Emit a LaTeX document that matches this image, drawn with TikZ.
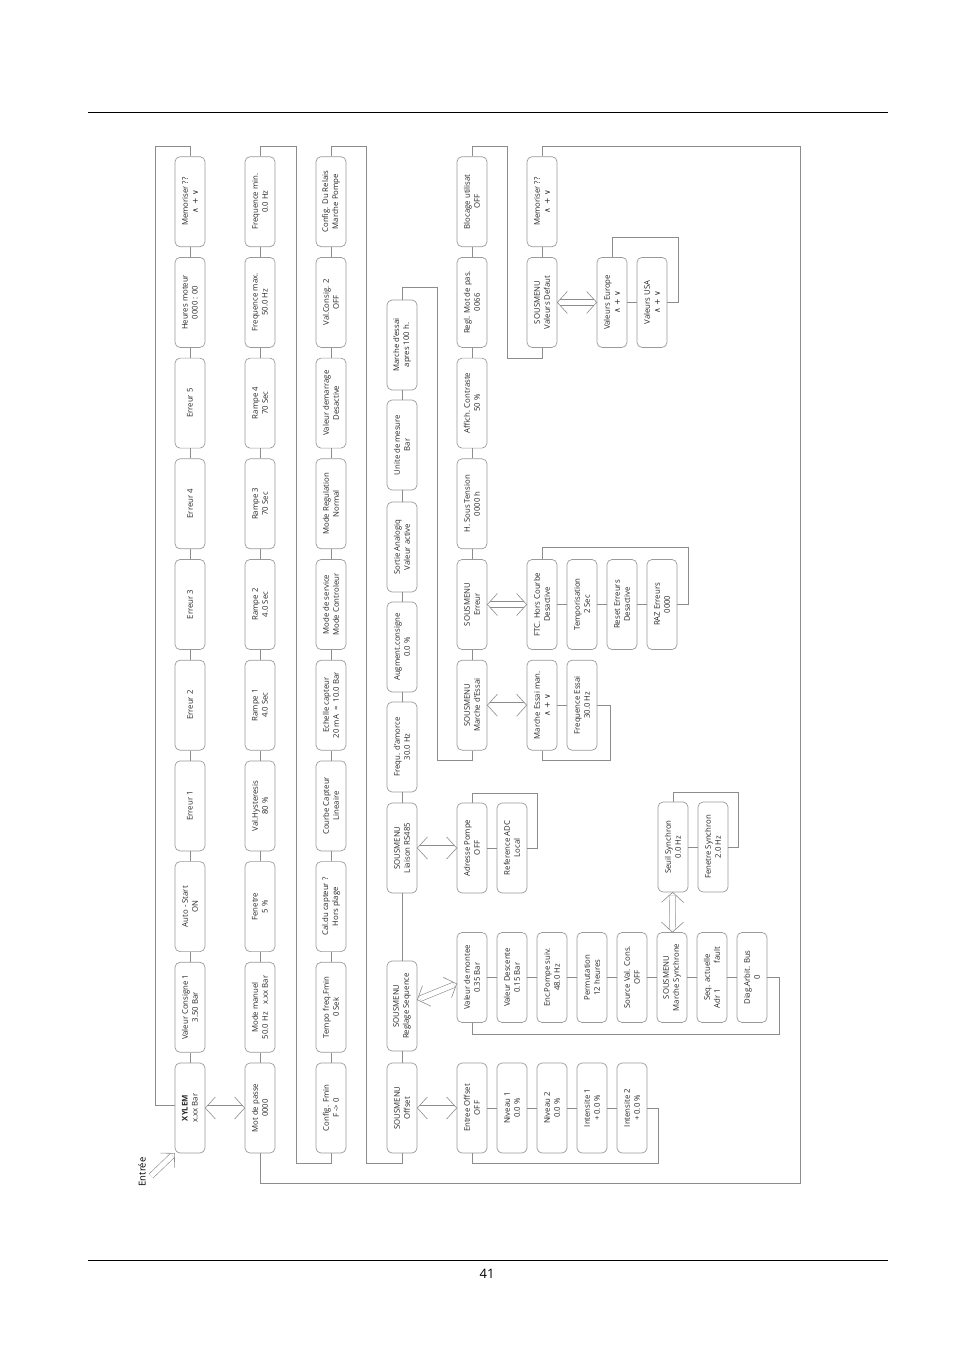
\documentclass[tikz,border=0pt]{standalone}
\usepackage{fontspec}
\setmainfont{Open Sans}
\newfontfamily\symf{DejaVu Sans}
\usetikzlibrary{arrows.meta,calc,decorations.markings}
\definecolor{boxc}{HTML}{9A9A9A}
\definecolor{linec}{HTML}{8C8C8C}
\definecolor{txtc}{HTML}{262626}
\newcommand{\updn}{{\symf ∧ + ∨}}
\begin{document}
\begin{tikzpicture}[x=1pt,y=-1pt,
  bx/.style={draw=boxc, rounded corners=5pt, rotate=90, minimum width=90pt, minimum height=30pt,
    inner sep=1pt, align=center, font=\fontsize{7.8}{10}\selectfont, text=txtc, line width=0.7pt},
  conn/.style={draw=linec, line width=0.7pt},
  vhead/.style={draw=linec, line width=0.6pt},
  darr/.style={draw=none,
    postaction={draw=linec, line width=0.6pt, double distance=5pt, shorten <=3pt, shorten >=3pt},
    postaction={decorate, decoration={markings,
      mark=at position 0 with {\draw[vhead] (10pt,11pt) -- (0pt,0pt) -- (10pt,-11pt);},
      mark=at position 1 with {\draw[vhead] (-10pt,11pt) -- (0pt,0pt) -- (-10pt,-11pt);}}}},
  sarr/.style={draw=none,
    postaction={draw=linec, line width=0.6pt, double distance=5pt, shorten >=3pt},
    postaction={decorate, decoration={markings,
      mark=at position 1 with {\draw[vhead] (-10pt,10pt) -- (0pt,0pt) -- (-10pt,-10pt);}}}},
]
\useasboundingbox (0,0) rectangle (954,1351);
\draw[line width=0.6pt] (88,112) -- (888,112);
\draw[line width=0.6pt] (88,1260) -- (888,1260);
\node[font=\fontsize{13}{15}\selectfont] (pnum) at (487,1274) {41};

% column 1
\node[bx] (a0) at (190,1108) {\textbf{XYLEM}\\x.xx Bar};
\node[bx] (a1) at (190,1007.3) {Valeur Consigne 1\\3.50 Bar};
\node[bx] (a2) at (190,906.6) {Auto - Start\\ON};
\node[bx] (a3) at (190,805.9) {Erreur 1};
\node[bx] (a4) at (190,705.2) {Erreur 2};
\node[bx] (a5) at (190,604.5) {Erreur 3};
\node[bx] (a6) at (190,503.8) {Erreur 4};
\node[bx] (a7) at (190,403.1) {Erreur 5};
\node[bx] (a8) at (190,302.4) {Heures moteur\\0000 : 00};
\node[bx] (a9) at (190,201.7) {Memoriser ??\\\updn};
% column 2
\node[bx] (b0) at (260,1108) {Mot de passe\\0000};
\node[bx] (b1) at (260,1007.3) {Mode manuel\\50.0 Hz\quad x.xx Bar};
\node[bx] (b2) at (260,906.6) {Fenetre\\5 \%};
\node[bx] (b3) at (260,805.9) {Val.Hysteresis\\80 \%};
\node[bx] (b4) at (260,705.2) {Rampe 1\\4.0 Sec};
\node[bx] (b5) at (260,604.5) {Rampe 2\\4.0 Sec};
\node[bx] (b6) at (260,503.8) {Rampe 3\\70 Sec};
\node[bx] (b7) at (260,403.1) {Rampe 4\\70 Sec};
\node[bx] (b8) at (260,302.4) {Frequence max.\\50.0 Hz};
\node[bx] (b9) at (260,201.7) {Frequence min.\\0.0 Hz};
% column 3
\node[bx] (c0) at (331,1108) {Config. Fmin\\F -> 0};
\node[bx] (c1) at (331,1007.3) {Tempo freq.Fmin\\0 Sek};
\node[bx] (c2) at (331,906.6) {Cal.du capteur ?\\Hors plage};
\node[bx] (c3) at (331,805.9) {Courbe Capteur\\Lineaire};
\node[bx] (c4) at (331,705.2) {Echelle capteur\\20 mA\ \ =\ \ 10.0 Bar};
\node[bx] (c5) at (331,604.5) {Mode de service\\Mode Controleur};
\node[bx] (c6) at (331,503.8) {Mode Regulation\\Normal};
\node[bx] (c7) at (331,403.1) {Valeur demarrage\\Desactive};
\node[bx] (c8) at (331,302.4) {Val.Consig. 2\\OFF};
\node[bx] (c9) at (331,201.7) {Config. Du Relais\\Marche Pompe};
% column 4
\node[bx] (d0) at (402,1108) {SOUSMENU\\Offset};
\node[bx] (d1) at (402,1006) {SOUSMENU\\Reglage Sequence};
\node[bx] (d2) at (402,848) {SOUSMENU\\Liaison RS485};
\node[bx] (d3) at (402,747) {Frequ. d'amorce\\30.0 Hz};
\node[bx] (d4) at (402,647) {Augment.consigne\\0.0 \%};
\node[bx] (d5) at (402,547) {Sortie Analogiq\\Valeur active};
\node[bx] (d6) at (402,445) {Unite de mesure\\Bar};
\node[bx] (d7) at (402,345) {Marche d'essai\\apres 100 h.};
% column 5
\node[bx] (e4) at (472,705.2) {SOUSMENU\\Marche d'Essai};
\node[bx] (e5) at (472,604.5) {SOUSMENU\\Erreur};
\node[bx] (e6) at (472,503.8) {H. Sous Tension\\0000 h};
\node[bx] (e7) at (472,403.1) {Affich. Contraste\\50 \%};
\node[bx] (e8) at (472,302.4) {Regl. Mot de pas.\\0066};
\node[bx] (e9) at (472,201.7) {Blocage utilisat\\OFF};
% column 6 top
\node[bx] (f8) at (542,302.4) {SOUSMENU\\Valeurs Defaut};
\node[bx] (f9) at (542,201.7) {Memoriser ??\\\updn};
\node[bx] (v0) at (612,302.4) {Valeurs Europe\\\updn};
\node[bx] (v1) at (652,302.4) {Valeurs USA\\\updn};
% erreur submenu
\node[bx] (g0) at (542,604.5) {FTC. Hors Courbe\\Desactive};
\node[bx] (g1) at (582,604.5) {Temporisation\\2 Sec};
\node[bx] (g2) at (622,604.5) {Reset Erreurs\\Desactive};
\node[bx] (g3) at (662,604.5) {RAZ Erreurs\\0000};
% marche d'essai submenu
\node[bx] (h0) at (542,705.2) {Marche Essai man.\\\updn};
\node[bx] (h1) at (582,705.2) {Frequence Essai\\30.0 Hz};
% RS485 submenu
\node[bx] (r0) at (472,848) {Adresse Pompe\\OFF};
\node[bx] (r1) at (512,848) {Reference ADC\\Local};
% synchron submenu
\node[bx] (s0) at (673,847) {Seuil Synchron\\0.0 Hz};
\node[bx] (s1) at (713,847) {Fenetre Synchron\\2.0 Hz};
% sequence submenu
\node[bx] (q0) at (472,977.5) {Valeur de montee\\0.35 Bar};
\node[bx] (q1) at (512,977.5) {Valeur Descente\\0.15 Bar};
\node[bx] (q2) at (552,977.5) {Enc.Pompe suiv.\\48.0 Hz};
\node[bx] (q3) at (592,977.5) {Permutation\\12 heures};
\node[bx] (q4) at (632,977.5) {Source Val. Cons.\\OFF};
\node[bx] (q5) at (672,977.5) {SOUSMENU\\Marche Synchrone};
\node[bx] (q6) at (712,977.5) {Seq. actuelle\\Adr 1\hspace{26pt}fault};
\node[bx] (q7) at (752,977.5) {Diag.Arbit. Bus\\0};
% offset submenu
\node[bx] (o0) at (472,1108) {Entree Offset\\OFF};
\node[bx] (o1) at (512,1108) {Niveau 1\\0.0 \%};
\node[bx] (o2) at (552,1108) {Niveau 2\\0.0 \%};
\node[bx] (o3) at (592,1108) {Intensite 1\\+ 0.0 \%};
\node[bx] (o4) at (632,1108) {Intensite 2\\+ 0.0 \%};

% chain links
\foreach \p/\n in {a0/a1,a1/a2,a2/a3,a3/a4,a4/a5,a5/a6,a6/a7,a7/a8,a8/a9,
  b0/b1,b1/b2,b2/b3,b3/b4,b4/b5,b5/b6,b6/b7,b7/b8,b8/b9,
  c0/c1,c1/c2,c2/c3,c3/c4,c4/c5,c5/c6,c6/c7,c7/c8,c8/c9,
  d0/d1,d1/d2,d2/d3,d3/d4,d4/d5,d5/d6,d6/d7,
  e4/e5,e5/e6,e6/e7,e7/e8,e8/e9,f8/f9,v0/v1,g0/g1,g1/g2,g2/g3,h0/h1,r0/r1,s0/s1,
  q0/q1,q1/q2,q2/q3,q3/q4,q4/q5,q5/q6,q6/q7,o0/o1,o1/o2,o2/o3,o3/o4}
  \draw[conn] (\p) -- (\n);

% loops between columns
\draw[conn] (a9.east) -- ++(0,-10) -| (155,1105) -- (a0.north |- 155,1105);
\draw[conn] (b9.east) -- ++(0,-10) -| (296,1163) -| (c0.west);
\draw[conn] (c9.east) -- ++(0,-10) -| (366,1163) -| (d0.west);
\draw[conn] (d7.east) -- ++(0,-12) -| (437,760) -| (e4.west);
\draw[conn] (e9.east) -- ++(0,-10) -| (507,358) -| (f8.west);
\draw[conn] (f9.east) -- ++(0,-10) -| (800,1183) -| (b0.west);
% submenu loops
\draw[conn] (g3.south) -| (688,547) -| (g0.east);
\draw[conn] (h1.south) -| (610,760) -| (h0.west);
\draw[conn] (v1.south) -| (678,237) -| (v0.east);
\draw[conn] (r1.south) -| (537,793) -| (r0.east);
\draw[conn] (s1.south) -| (738,792) -| (s0.east);
\draw[conn] (q7.south) -| (779,1034) -| (q0.west);
\draw[conn] (o4.south) -| (658,1163) -| (o0.west);

% double arrows
\draw[darr] (a0) -- (b0);
\draw[darr] (d0) -- (o0);
\draw[darr] (d1) -- (q0);
\draw[darr] (d2) -- (r0);
\draw[darr] (e4) -- (h0);
\draw[darr] (e5) -- (g0);
\draw[darr] (f8) -- (v0);
\draw[darr] (q5) -- (s0);

% entree
\coordinate (ein) at (151,1176);
\draw[sarr] (ein) -- (a0.north west);
\node[rotate=90, font=\fontsize{9.5}{11}\selectfont] (entree) at (142,1172) {Entrée};
\end{tikzpicture}
\end{document}
